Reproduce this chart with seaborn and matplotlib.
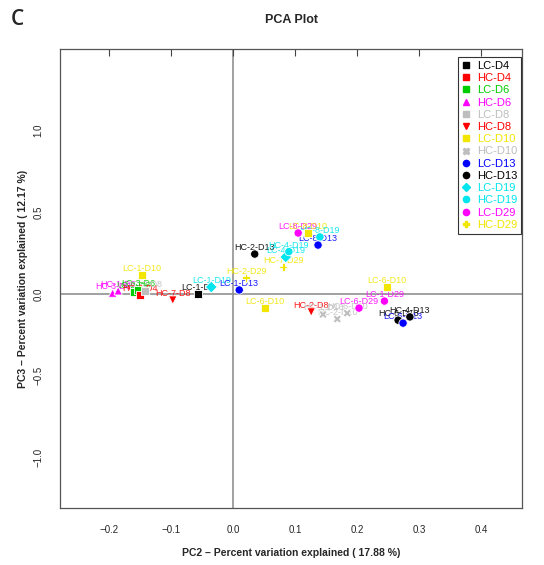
import pandas as pd
import matplotlib.pyplot as plt
import seaborn as sns
from matplotlib.lines import Line2D

sns.set_style("white")
plt.rcParams['font.family'] = ['Liberation Sans', 'DejaVu Sans']

# sample labels, PCA scores and groups
samples = ['LC-1-D10', 'HC-3-D6', 'HC-1-D6', 'LC-2-D6', 'LC-3-D6', 'HC-2-D4', 'LC-2-D8',
           'HC-7-D8', 'LC-1-D4', 'LC-1-D19', 'LC-1-D13', 'HC-2-D29', 'HC-2-D13', 'LC-6-D10',
           'HC-7-D29', 'LC-4-D19', 'HC-4-D19', 'LC-8-D29', 'LC-8-D10', 'HC-8-D19', 'LC-8-D13',
           'LC-6-D10', 'LC-1-D29', 'LC-6-D29', 'HC-2-D8', 'HC-1-D10', 'HC-2-D10', 'HC-6-D10',
           'HC-4-D13', 'HC-6-D13', 'LC-6-D13']
pc2 = [-0.147, -0.194, -0.185, -0.160, -0.152, -0.150, -0.142,
       -0.097, -0.056, -0.035, 0.010, 0.021, 0.035, 0.052,
       0.081, 0.085, 0.090, 0.105, 0.121, 0.140, 0.137,
       0.248, 0.244, 0.203, 0.126, 0.145, 0.168, 0.184,
       0.285, 0.266, 0.274]
pc3 = [0.117, 0.006, 0.020, 0.012, 0.025, -0.005, 0.018,
       -0.037, 0.000, 0.043, 0.025, 0.100, 0.245, -0.086,
       0.166, 0.227, 0.260, 0.374, 0.374, 0.350, 0.300,
       0.043, -0.043, -0.086, -0.110, -0.125, -0.153, -0.117,
       -0.140, -0.160, -0.178]

groups = ['LC-D4', 'HC-D4', 'LC-D6', 'HC-D6', 'LC-D8', 'HC-D8', 'LC-D10',
          'HC-D10', 'LC-D13', 'HC-D13', 'LC-D19', 'HC-D19', 'LC-D29', 'HC-D29']
group_colors = ['black', '#FF0000', '#00CD00', '#FF00FF', '#BEBEBE', '#FF0000', '#F2E600',
                '#BEBEBE', '#0000FF', 'black', '#00E5EE', '#00E5EE', '#FF00FF', '#F2E600']
group_markers = ['s', 's', 's', '^', 's', 'v', 's', 'X', 'o', 'o', 'D', 'o', 'o', 'P']

df = pd.DataFrame({'sample': samples, 'PC2': pc2, 'PC3': pc3})
df['group'] = df['sample'].str[:2] + '-' + df['sample'].str.split('-').str[2]

palette = dict(zip(groups, group_colors))
markers = dict(zip(groups, group_markers))

fig = plt.figure(figsize=(5.44, 5.65), dpi=100)
ax = fig.add_axes([0.110, 0.101, 0.850, 0.812])

ax.axhline(0, color='#888888', lw=1.1, zorder=0)
ax.axvline(0, color='#888888', lw=1.1, zorder=0)

sns.scatterplot(data=df, x='PC2', y='PC3', hue='group', style='group',
                palette=palette, markers=markers, hue_order=groups, style_order=groups,
                s=36, linewidth=0.6, ax=ax, legend=False, zorder=3)

for _, r in df.iterrows():
    ax.annotate(r['sample'], (r['PC2'], r['PC3']), xytext=(0, 1.5),
                textcoords='offset points', ha='center', va='bottom',
                fontsize=6.5, color=palette[r['group']], alpha=0.9, zorder=2)

ax.set_xlim(-0.279, 0.466)
ax.set_ylim(-1.31, 1.50)
ax.set_xticks([-0.2, -0.1, 0.0, 0.1, 0.2, 0.3, 0.4])
ax.set_yticks([-1.0, -0.5, 0.0, 0.5, 1.0])
ax.tick_params(direction='in', length=5, width=0.8, color='#444444', labelsize=7,
               top=True, right=False, pad=12)
for lab in ax.get_yticklabels():
    lab.set_rotation(90)
    lab.set_va('center')
for sp in ax.spines.values():
    sp.set_color('#555555')
    sp.set_linewidth(0.9)

ax.set_xlabel('PC2 \u2013 Percent variation explained ( 17.88 %)', fontsize=7.5,
              fontweight='bold', labelpad=10)
ax.set_ylabel('PC3 \u2013 Percent variation explained ( 12.17 %)', fontsize=7.5,
              fontweight='bold', labelpad=4)
ax.set_title('PCA Plot', fontsize=9, fontweight='bold', pad=19)
fig.text(0.020, 0.966, 'C', fontsize=15, family='Open Sans', fontweight='semibold',
         va='center')

handles = [Line2D([], [], ls='', marker=m, color=c, markersize=4.5)
           for m, c in zip(group_markers, group_colors)]
leg = ax.legend(handles, groups, labelcolor=group_colors, loc='upper right',
                bbox_to_anchor=(0.998, 0.983), fontsize=8, frameon=True,
                fancybox=False, edgecolor='black', handlelength=0.9,
                handletextpad=0.5, labelspacing=0.2, borderpad=0.35,
                borderaxespad=0)
leg.get_frame().set_linewidth(0.8)

plt.savefig('out.png', dpi=100)
